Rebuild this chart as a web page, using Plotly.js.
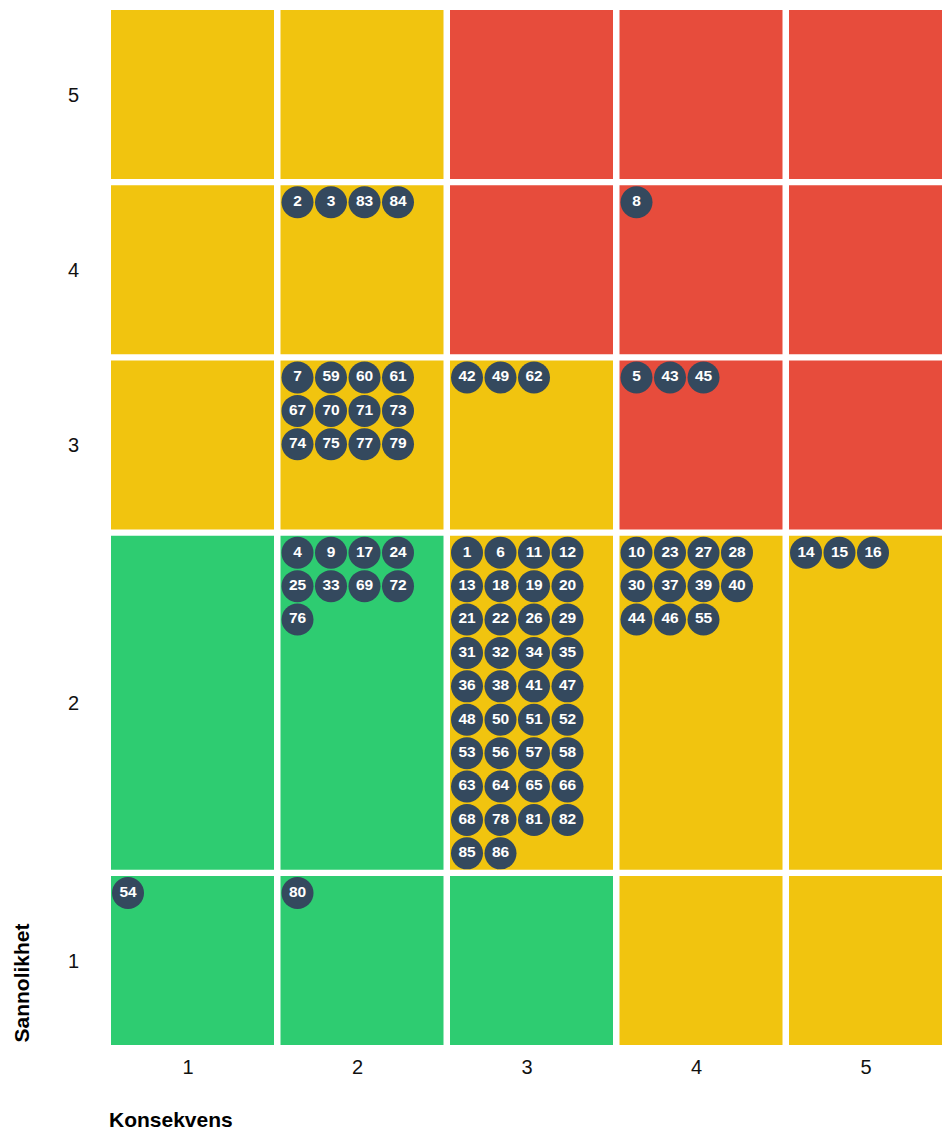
<!DOCTYPE html>
<html>
<head>
<meta charset="utf-8">
<script src="https://cdn.plot.ly/plotly-3.0.1.min.js"></script>
<style>html,body{margin:0;padding:0;background:#fff;overflow:hidden}#chart{width:942px;height:1129px}</style>
</head>
<body>
<div id="chart"></div>
<script>
// ---------- DATA ----------
const konsekvensLevels = [1, 2, 3, 4, 5];
const sannolikhetLevels = [1, 2, 3, 4, 5];
const tickLabels = ['1', '2', '3', '4', '5'];

// risk level per cell, rows = sannolikhet 1..5, columns = konsekvens 1..5
const riskRowS1 = ['lav', 'lav', 'lav', 'middels', 'middels'];
const riskRowS2 = ['lav', 'lav', 'middels', 'middels', 'middels'];
const riskRowS3 = ['middels', 'middels', 'middels', 'hoy', 'hoy'];
const riskRowS4 = ['middels', 'middels', 'hoy', 'hoy', 'hoy'];
const riskRowS5 = ['middels', 'middels', 'hoy', 'hoy', 'hoy'];
const riskColors = { lav: '#2ecc71', middels: '#f1c40f', hoy: '#e74c3c' };

// risk items 1..86
const itemIds = [];
for (let i = 1; i <= 86; i++) itemIds.push(i);
const itemKonsekvens = [
  3,2,2,2,4,3,2,4,2,4,
  3,3,3,5,5,5,2,3,3,3,
  3,3,4,2,2,3,4,4,3,4,
  3,3,2,3,3,3,4,3,4,4,
  3,3,4,4,4,4,3,3,3,3,
  3,3,3,1,4,3,3,3,2,2,
  2,3,3,3,3,3,2,3,2,2,
  2,2,2,2,2,2,2,3,2,2,
  3,3,2,2,3,3
];
const itemSannolikhet = [
  2,4,4,2,3,2,3,4,2,2,
  2,2,2,2,2,2,2,2,2,2,
  2,2,2,2,2,2,2,2,2,2,
  2,2,2,2,2,2,2,2,2,2,
  2,3,3,2,3,2,2,2,3,2,
  2,2,2,1,2,2,2,2,3,3,
  3,3,2,2,2,2,3,2,2,3,
  3,2,3,3,3,2,3,2,3,1,
  2,2,4,4,2,2
];
const xTitle = 'Konsekvens';
const yTitle = 'Sannolikhet';

// ---------- LAYOUT GEOMETRY ----------
const W = 942, H = 1129;
const M_L = 111, M_T = 10;
const COL_PITCH = 169.5, CELL_W = 163, TICK_OFF = 77;
const BASE_ROW_H = 169, ROW_GAP = 6.25;
const DOT = 32, DOT_PX = 33.5, DOT_PY = 33.4, DOT_OFF = 17, PER_LINE = 4;
const riskMatrix = [riskRowS1, riskRowS2, riskRowS3, riskRowS4, riskRowS5];

// group items into cells
const cellItems = {};
itemIds.forEach((id, i) => {
  const key = itemKonsekvens[i] + '_' + itemSannolikhet[i];
  (cellItems[key] = cellItems[key] || []).push(id);
});

// row heights (depend on the number of dot lines)
const rowH = {};
sannolikhetLevels.forEach(s => {
  let lines = 0;
  konsekvensLevels.forEach(k => {
    const n = (cellItems[k + '_' + s] || []).length;
    lines = Math.max(lines, Math.ceil(n / PER_LINE));
  });
  rowH[s] = Math.max(BASE_ROW_H, lines * DOT_PY);
});
const rowTop = {};
let acc = 0;
[...sannolikhetLevels].reverse().forEach((s, i) => {
  rowTop[s] = acc;
  acc += rowH[s] + (i < sannolikhetLevels.length - 1 ? ROW_GAP : 0);
});
const totalH = acc;
const plotW = W - M_L;
const colLeft = k => (k - 1) * COL_PITCH;

const shapes = [];
sannolikhetLevels.forEach(s => {
  konsekvensLevels.forEach(k => {
    shapes.push({
      type: 'rect', xref: 'x', yref: 'y', layer: 'below',
      x0: colLeft(k), x1: colLeft(k) + CELL_W,
      y0: rowTop[s], y1: rowTop[s] + rowH[s],
      fillcolor: riskColors[riskMatrix[s - 1][k - 1]],
      line: { width: 0 }
    });
  });
});

const dx = [], dy = [], dt = [];
Object.keys(cellItems).forEach(key => {
  const [k, s] = key.split('_').map(Number);
  cellItems[key].forEach((id, j) => {
    dx.push(colLeft(k) + DOT_OFF + (j % PER_LINE) * DOT_PX);
    dy.push(rowTop[s] + DOT_OFF + Math.floor(j / PER_LINE) * DOT_PY);
    dt.push(String(id));
  });
});

const traces = [{
  type: 'scatter', mode: 'markers+text',
  x: dx, y: dy, text: dt,
  textposition: 'middle center',
  textfont: { family: 'Liberation Sans, Arial, sans-serif', size: 15.5, color: '#ffffff', weight: 'bold' },
  marker: { size: DOT, color: '#34495e', line: { width: 0 } },
  hoverinfo: 'skip', showlegend: false, cliponaxis: true
}];

const layout = {
  width: W, height: H,
  margin: { l: M_L, r: 0, t: M_T, b: H - M_T - totalH, pad: 0 },
  paper_bgcolor: '#ffffff', plot_bgcolor: '#ffffff',
  font: { family: 'Liberation Sans, Arial, sans-serif', color: '#111' },
  showlegend: false,
  xaxis: {
    range: [0, plotW], showgrid: false, zeroline: false, showline: false,
    tickvals: konsekvensLevels.map(k => colLeft(k) + TICK_OFF), ticktext: tickLabels,
    ticks: 'outside', ticklen: 4, tickcolor: 'rgba(0,0,0,0)',
    tickfont: { size: 20, color: '#111' }, fixedrange: true
  },
  yaxis: {
    range: [totalH, 0], showgrid: false, zeroline: false, showline: false,
    tickvals: sannolikhetLevels.map(s => rowTop[s] + rowH[s] / 2), ticktext: tickLabels,
    ticks: 'outside', ticklen: 27, tickcolor: 'rgba(0,0,0,0)',
    tickfont: { size: 20, color: '#111' }, fixedrange: true
  },
  shapes: shapes,
  annotations: [
    { text: xTitle, xref: 'paper', yref: 'paper', x: 0, y: 0, xanchor: 'left', yanchor: 'middle',
      height: 20, valign: 'middle',
      xshift: -4, yshift: -74, showarrow: false, font: { size: 21, weight: 'bold', color: '#000' } },
    { text: yTitle, xref: 'paper', yref: 'paper', x: 0, y: 0, xanchor: 'center', yanchor: 'bottom',
      xshift: -90, textangle: -90, showarrow: false, font: { size: 21, weight: 'bold', color: '#000' } }
  ]
};

Plotly.newPlot('chart', traces, layout, { displayModeBar: false, staticPlot: true });
</script>
</body>
</html>
